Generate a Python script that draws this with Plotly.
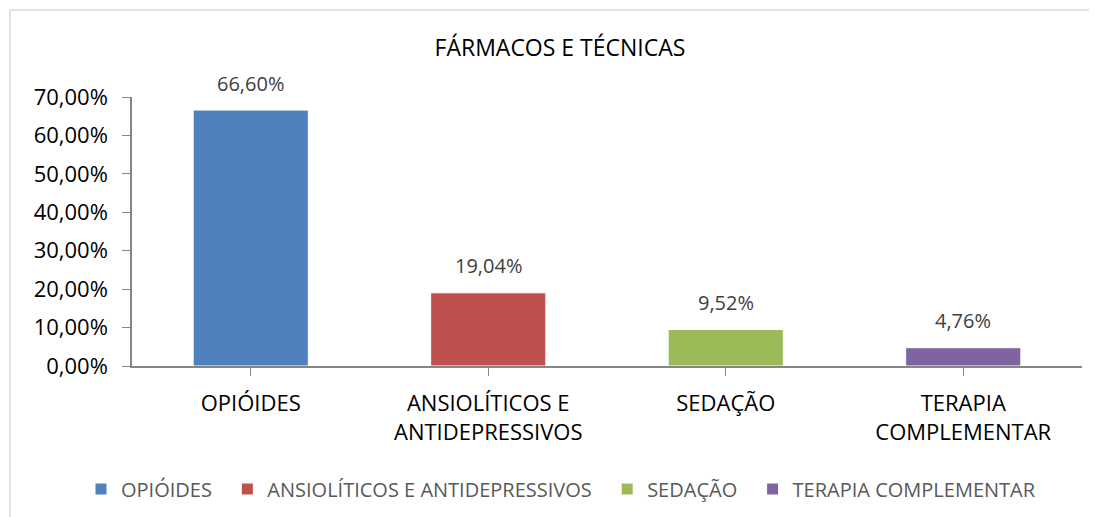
import plotly.graph_objects as go

categories = ["OPIÓIDES", "ANSIOLÍTICOS E ANTIDEPRESSIVOS", "SEDAÇÃO", "TERAPIA COMPLEMENTAR"]
axis_labels = ["OPIÓIDES", "ANSIOLÍTICOS E<br>ANTIDEPRESSIVOS", "SEDAÇÃO", "TERAPIA<br>COMPLEMENTAR"]
values = [66.60, 19.04, 9.52, 4.76]
value_labels = ["66,60%", "19,04%", "9,52%", "4,76%"]
colors = ["#4F81BD", "#C0504D", "#9BBB59", "#8064A2"]
tick_vals = [0, 10, 20, 30, 40, 50, 60, 70]
tick_text = ["0,00%", "10,00%", "20,00%", "30,00%", "40,00%", "50,00%", "60,00%", "70,00%"]

FONT = "Open Sans"
OFF = 8  # page body margin
W, H = 1097 - OFF, 517 - OFF
L, R, T, B = 132 - OFF, 1097 - 1082, 97 - OFF, H - (366 - OFF)
PW, PH = W - L - R, H - T - B

fig = go.Figure()
for i, cat in enumerate(categories):
    pad = "\u00a0\u00a0" if i < len(categories) - 1 else ""
    fig.add_trace(go.Bar(
        x=[i], y=[values[i]], name=cat + pad,
        marker=dict(color=colors[i], line=dict(color="white", width=1)),
        width=0.485,
    ))
    fig.add_annotation(x=i, y=values[i], text=value_labels[i], showarrow=False,
                       yanchor="middle", yshift=27,
                       font=dict(family=FONT, size=20, color="#404040"))

fig.update_layout(
    width=W, height=H,
    margin=dict(l=L, r=R, t=T, b=B, autoexpand=False),
    paper_bgcolor="white", plot_bgcolor="white",
    barmode="overlay",
    font=dict(family=FONT),
    title=dict(text="FÁRMACOS E TÉCNICAS", x=(560 - OFF) / W, xanchor="center",
               y=1 - (48 - OFF) / H, yanchor="middle",
               font=dict(family=FONT, size=23, color="#000000")),
    showlegend=True,
    legend=dict(orientation="h",
                x=(81 - 132) / PW, xanchor="left",
                y=-(489 - 366) / PH, yanchor="middle",
                font=dict(family=FONT, size=20, color="#595959"), itemwidth=30,
                traceorder="normal"),
    xaxis=dict(range=[-0.5, 3.5], tickvals=[0, 1, 2, 3], ticktext=axis_labels,
               tickson="boundaries", ticks="outside", ticklen=8, tickcolor="#868686",
               showline=True, linecolor="#868686", linewidth=1.5, showgrid=False,
               ticklabelstandoff=9,
               tickfont=dict(family=FONT, size=22, color="#000000"), fixedrange=True),
    yaxis=dict(range=[0, 70], tickvals=tick_vals, ticktext=tick_text,
               ticks="outside", ticklen=8, tickcolor="#868686",
               showline=True, linecolor="#868686", linewidth=1.5, showgrid=False,
               zeroline=False, ticklabelstandoff=10,
               tickfont=dict(family=FONT, size=22, color="#000000"), fixedrange=True),
)

fig.add_shape(type="rect", xref="paper", yref="paper",
              x0=(10 - 132) / PW, x1=(1120 - 132) / PW,
              y0=-(540 - 366) / PH, y1=1 + (97 - 10) / PH,
              line=dict(color="#D9D9D9", width=1.5), fillcolor="rgba(0,0,0,0)", layer="below")

fig.write_html("out.html")
